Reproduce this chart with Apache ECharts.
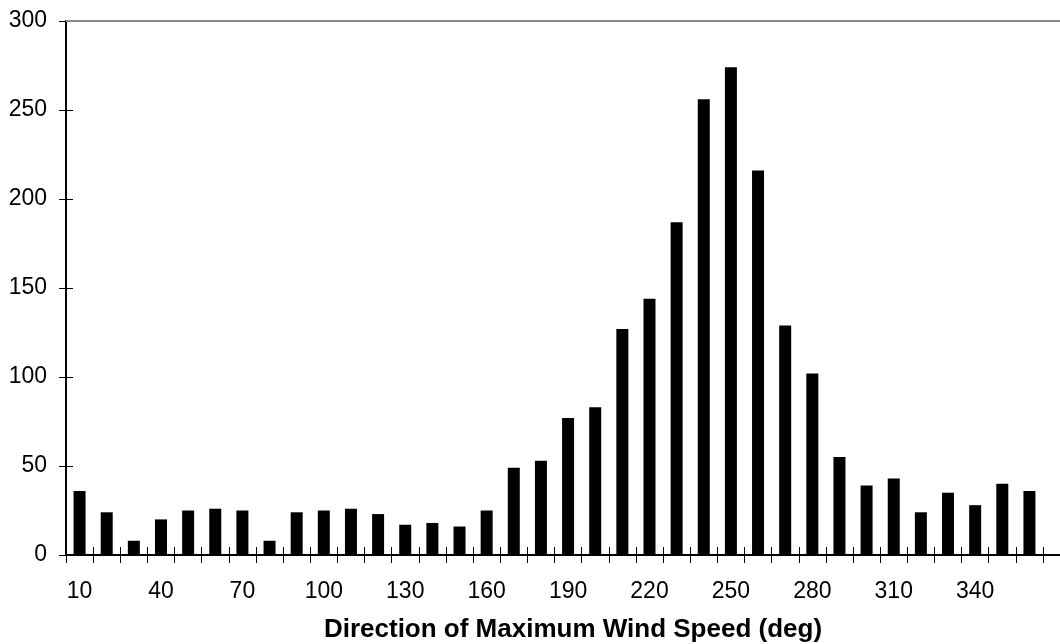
<!DOCTYPE html>
<html>
<head>
<meta charset="utf-8">
<script src="https://cdn.jsdelivr.net/npm/echarts@6/dist/echarts.min.js"></script>
<style>
  html, body { margin: 0; padding: 0; background: #fff; }
  #main { width: 1060px; height: 644px; }
</style>
</head>
<body>
<div id="main"></div>
<script>
// wind direction bins (deg)
let directions = [];
for (let d = 10; d <= 360; d += 10) directions.push(String(d));

// counts
let counts = [36, 24, 8, 20, 25, 26, 25, 8, 24, 25, 26, 23,
              17, 18, 16, 25, 49, 53, 77, 83, 127, 144, 187, 256,
              274, 216, 129, 102, 55, 39, 43, 24, 35, 28, 40, 36];

let yTicks = { min: 0, max: 300, interval: 50 };

let gridBox = { left: 66, right: 17, top: 21, bottom: 89 };
let plotW = 1060 - gridBox.left - gridBox.right;
let plotH = 644 - gridBox.top - gridBox.bottom;
let font = 'Liberation Sans, Arial, sans-serif';

var myChart = echarts.init(document.getElementById('main'));

let tickStyle = { color: '#000', width: 1 };

var option = {
    animation: false,
    grid: gridBox,
    title: {
        text: 'Direction of Maximum Wind Speed (deg)',
        left: 568,
        top: 612,
        textAlign: 'center',
        textStyle: { fontFamily: font, fontSize: 26, fontWeight: 'bold', color: '#000' }
    },
    xAxis: [
        {
            type: 'category', data: directions, position: 'bottom',
            axisLine: { lineStyle: { color: '#000', width: 2 } },
            axisTick: { show: true, interval: 0, length: 8, lineStyle: tickStyle },
            axisLabel: { interval: 2, margin: 25, fontFamily: font, fontSize: 23, color: '#000' },
            splitLine: { show: false }
        },
        {
            // top axis pulled down onto the bottom one: its ticks point into the plot
            type: 'category', data: directions, position: 'top', offset: -plotH,
            axisLine: { show: false },
            axisTick: { show: true, interval: 0, length: 8, lineStyle: tickStyle },
            axisLabel: { show: false }, splitLine: { show: false }
        }
    ],
    yAxis: [
        {
            type: 'value', min: yTicks.min, max: yTicks.max, interval: yTicks.interval,
            axisLine: { show: true, lineStyle: { color: '#000', width: 2 } },
            axisTick: { show: true, length: 7, lineStyle: tickStyle },
            axisLabel: { margin: 19, fontFamily: font, fontSize: 23, color: '#000' },
            splitLine: { show: false }
        },
        {
            // right axis pulled over onto the left one for the inner ticks
            type: 'value', position: 'right', offset: -plotW,
            min: yTicks.min, max: yTicks.max, interval: yTicks.interval,
            axisLine: { show: false },
            axisTick: { show: true, length: 7, lineStyle: tickStyle },
            axisLabel: { show: false }, splitLine: { show: false }
        }
    ],
    series: [
        {
            name: 'count', type: 'bar', xAxisIndex: 0, yAxisIndex: 0,
            data: counts, barWidth: 12,
            itemStyle: { color: '#000' }
        }
    ],
    graphic: [
        // grey top border, running on to the right edge of the picture
        { type: 'line', z: 10, shape: { x1: gridBox.left, y1: gridBox.top, x2: 1060, y2: gridBox.top },
          style: { stroke: '#8a8a8a', lineWidth: 2 } },
        { type: 'line', z: 10, shape: { x1: 1060 - gridBox.right, y1: 644 - gridBox.bottom, x2: 1060, y2: 644 - gridBox.bottom },
          style: { stroke: '#000', lineWidth: 2 } }
    ]
};

myChart.setOption(option);
</script>
</body>
</html>
